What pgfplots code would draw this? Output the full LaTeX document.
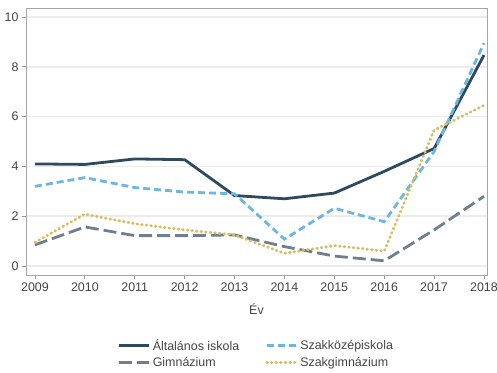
\documentclass[border=0pt]{standalone}
\usepackage{pgfplots}
\pgfplotsset{compat=1.18}
\usepackage{fontspec}
\setmainfont{Liberation Sans}
\definecolor{cdark}{HTML}{2D4A5E}
\definecolor{cblue}{HTML}{6DB6E2}
\definecolor{cgray}{HTML}{6F7F8E}
\definecolor{cgold}{HTML}{D8BE62}
\definecolor{ctext}{HTML}{444444}
\begin{document}
\begin{tikzpicture}
\path[use as bounding box] (-26bp,-98bp) rectangle (471bp,275bp);
\begin{axis}[
  at={(0,0)}, anchor=south west,
  scale only axis, width=461bp, height=267bp,
  xmin=2008.82, xmax=2018.06, ymin=-0.36, ymax=10.36,
  xtick={2009,...,2018}, ytick={0,2,...,10},
  xticklabel style={/pgf/number format/1000 sep={}},
  /pgf/number format/assume math mode=true,
  tick label style={font=\fontsize{12.5}{15}\selectfont, text=ctext},
  label style={font=\fontsize{12.5}{15}\selectfont, text=ctext},
  xlabel={Év}, xlabel style={yshift=-6bp},
  axis line style={draw=gray!70, line width=0.8bp},
  tick style={draw=gray!80, line width=0.8bp},
  tick align=outside, major tick length=4bp,
  xtick pos=bottom, ytick pos=left,
  ymajorgrids, grid style={draw=gray!15, line width=1.6bp},
  legend columns=2,
  legend style={draw=none, fill=none, at={(0.5,-0.225)}, anchor=north,
    font=\fontsize{12.5}{15}\selectfont, text=ctext,
    /tikz/every even column/.append style={column sep=24bp},
    row sep=2bp},
  legend cell align=left,
  legend image code/.code={\draw[#1] (0bp,0bp) -- (30bp,0bp);},
]
\addplot[cdark, line width=2.8bp, line join=round] coordinates {(2009,4.1)(2010,4.08)(2011,4.3)(2012,4.27)(2013,2.83)(2014,2.7)(2015,2.93)(2016,3.8)(2017,4.72)(2018,8.47)};
\addlegendentry{Általános iskola}
\addplot[cblue, line width=2.8bp, dash pattern=on 7bp off 4bp] coordinates {(2009,3.2)(2010,3.55)(2011,3.15)(2012,2.97)(2013,2.9)(2014,1.08)(2015,2.32)(2016,1.78)(2017,4.6)(2018,8.95)};
\addlegendentry{Szakközépiskola}
\addplot[cgray, line width=2.8bp, dash pattern=on 13bp off 5bp] coordinates {(2009,0.85)(2010,1.57)(2011,1.22)(2012,1.22)(2013,1.25)(2014,0.78)(2015,0.4)(2016,0.21)(2017,1.45)(2018,2.8)};
\addlegendentry{Gimnázium}
\addplot[cgold, line width=3bp, line cap=round, dash pattern=on 0.6bp off 4bp] coordinates {(2009,0.95)(2010,2.08)(2011,1.7)(2012,1.45)(2013,1.25)(2014,0.51)(2015,0.82)(2016,0.6)(2017,5.46)(2018,6.45)};
\addlegendentry{Szakgimnázium}
\end{axis}
\end{tikzpicture}
\end{document}
